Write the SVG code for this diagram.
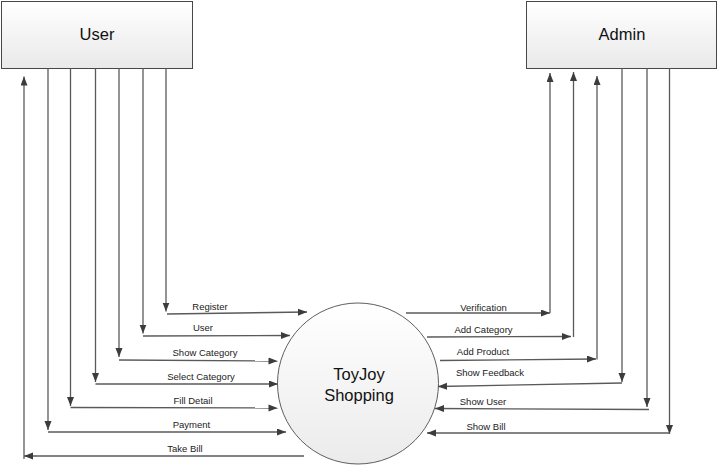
<svg xmlns="http://www.w3.org/2000/svg" width="721" height="468" viewBox="0 0 721 468">
<style>
.box{stroke:#474747;stroke-width:1;fill:url(#boxg)}
.proc{stroke:#5e5e5e;stroke-width:1;fill:url(#circg)}
.title{font-family:"Liberation Sans",Arial,sans-serif;font-size:16.5px;fill:#111;text-anchor:middle}
.lbl{font-family:"Liberation Sans",Arial,sans-serif;font-size:9.5px;fill:#222;text-anchor:middle}
#connectors path{fill:none;stroke:#5a5a5a;stroke-width:1.3}
.arr{marker-end:url(#ah)}
</style>
<defs>
<linearGradient id="boxg" x1="0" y1="0" x2="0" y2="1">
<stop offset="0" stop-color="#ffffff"/>
<stop offset="1" stop-color="#e9e9e9"/>
</linearGradient>
<linearGradient id="circg" x1="0" y1="0" x2="0" y2="1">
<stop offset="0" stop-color="#ffffff"/>
<stop offset="1" stop-color="#ebebeb"/>
</linearGradient>
<marker id="ah" markerUnits="userSpaceOnUse" markerWidth="10" markerHeight="8" refX="9" refY="3.5" orient="auto">
<path d="M0,0 L9,3.5 L0,7 z" fill="#3c3c3c"/>
</marker>
</defs>

<g id="user">
<rect class="box" x="1.5" y="1.5" width="191" height="67"/>
<text class="title" x="97" y="40">User</text>
</g>
<g id="admin">
<rect class="box" x="526.5" y="1.5" width="190" height="67"/>
<text class="title" x="622" y="40">Admin</text>
</g>
<g id="toyjoy-shopping">
<circle class="proc" cx="358" cy="383.5" r="80.5"/>
<text class="title" x="359" y="380">ToyJoy</text>
<text class="title" x="359" y="401">Shopping</text>
</g>

<g id="connectors">
<!-- User side -->
<path class="arr" d="M166,68.5 V311.5"/>
<path class="arr" d="M167,314 L307,312"/>
<path class="arr" d="M143,68.5 V333.5"/>
<path class="arr" d="M143,336 L290,335.5"/>
<path class="arr" d="M119,68.5 V357"/>
<path class="arr" d="M119,360 L277.5,361"/>
<path class="arr" d="M95.5,68.5 V382"/>
<path class="arr" d="M95.5,384 L278,384"/>
<path class="arr" d="M70.5,68.5 V406"/>
<path class="arr" d="M70.5,407.5 L277.5,408"/>
<path class="arr" d="M48,68.5 V430"/>
<path class="arr" d="M48,432 L286,432"/>
<path class="arr" d="M304,456 L24,456"/>
<path class="arr" d="M24,459 V76.5"/>
<!-- Admin side -->
<path class="arr" d="M406,313 L550,313"/>
<path class="arr" d="M550,313 V73"/>
<path class="arr" d="M427,337 L571,336.5"/>
<path class="arr" d="M573.5,337 V72"/>
<path class="arr" d="M440,360.5 L596,359"/>
<path class="arr" d="M597,359.5 V76"/>
<path class="arr" d="M622,68.5 V382"/>
<path class="arr" d="M622,383 L438,386.5"/>
<path class="arr" d="M647,68.5 V407"/>
<path class="arr" d="M649,409.5 L435,408.5"/>
<path class="arr" d="M669.5,68.5 V434"/>
<path class="arr" d="M669.5,433 L427,433"/>
</g>

<g id="labels">
<text class="lbl" x="210" y="310">Register</text>
<text class="lbl" x="203" y="330.5">User</text>
<text class="lbl" x="205" y="355.5">Show Category</text>
<text class="lbl" x="201" y="379.5">Select Category</text>
<text class="lbl" x="193" y="403.5">Fill Detail</text>
<text class="lbl" x="191.5" y="427.5">Payment</text>
<text class="lbl" x="185" y="451.5">Take Bill</text>
<text class="lbl" x="483.5" y="310.5">Verification</text>
<text class="lbl" x="483.5" y="332.5">Add Category</text>
<text class="lbl" x="483" y="354.5">Add Product</text>
<text class="lbl" x="490" y="375.5">Show Feedback</text>
<text class="lbl" x="483" y="404.5">Show User</text>
<text class="lbl" x="486" y="429.5">Show Bill</text>
</g>
</svg>
